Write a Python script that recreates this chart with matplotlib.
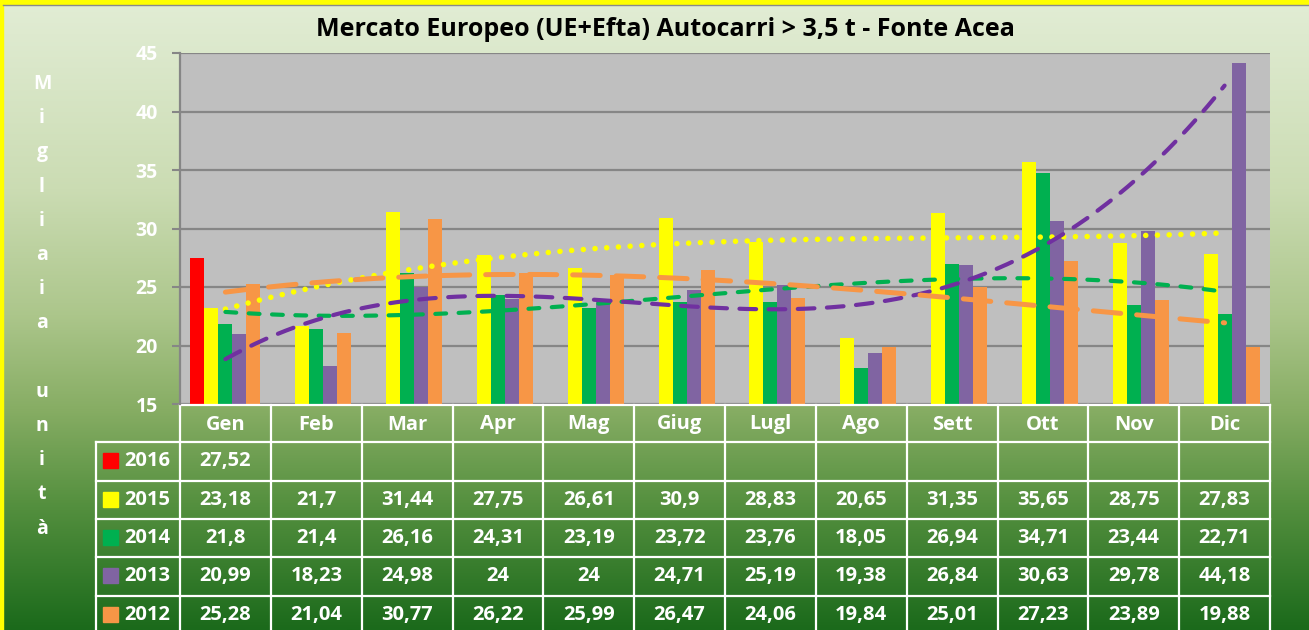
import numpy as np
import matplotlib.pyplot as plt
from matplotlib.colors import LinearSegmentedColormap
from matplotlib.patches import Rectangle
from matplotlib.transforms import blended_transform_factory

plt.rcParams['font.family'] = ['Open Sans', 'DejaVu Sans']
plt.rcParams['font.weight'] = 'bold'

# Dati (migliaia di unità)
mesi = ['Gen', 'Feb', 'Mar', 'Apr', 'Mag', 'Giug', 'Lugl', 'Ago', 'Sett', 'Ott', 'Nov', 'Dic']
anni = ['2016', '2015', '2014', '2013', '2012']
v2016 = [27.52] + [np.nan] * 11
v2015 = [23.18, 21.7, 31.44, 27.75, 26.61, 30.9, 28.83, 20.65, 31.35, 35.65, 28.75, 27.83]
v2014 = [21.8, 21.4, 26.16, 24.31, 23.19, 23.72, 23.76, 18.05, 26.94, 34.71, 23.44, 22.71]
v2013 = [20.99, 18.23, 24.98, 24, 24, 24.71, 25.19, 19.38, 26.84, 30.63, 29.78, 44.18]
v2012 = [25.28, 21.04, 30.77, 26.22, 25.99, 26.47, 24.06, 19.84, 25.01, 27.23, 23.89, 19.88]
serie = [v2016, v2015, v2014, v2013, v2012]
colori = ['#ff0000', '#ffff00', '#00b050', '#8064a2', '#f79646']

W, H = 1309, 630
fig = plt.figure(figsize=(W / 100, H / 100), dpi=100)

# sfondo sfumato
bg = fig.add_axes([0, 0, 1, 1])
bg.set_xlim(0, W)
bg.set_ylim(H, 0)
bg.axis('off')
cmap = LinearSegmentedColormap.from_list('sfondo', [
    (0.0, '#e2edd5'), (0.3, '#cbdcb3'), (0.5, '#acc68b'),
    (0.65, '#87ad64'), (0.8, '#55903f'), (1.0, '#1b6a1b')])
bg.imshow(np.linspace(0, 1, 256).reshape(-1, 1), cmap=cmap,
          extent=[0, W, H, 0], aspect='auto', zorder=0)
bg.add_patch(Rectangle((0, 0), W, 4, color='#ffff00', zorder=1))
bg.add_patch(Rectangle((0, 0), 3, H, color='#ffff00', zorder=1))
bg.plot([3, W], [5, 5], color='#8a8a8a', lw=1, zorder=1)

fig.text(665 / W, 1 - 30 / H, 'Mercato Europeo (UE+Efta) Autocarri > 3,5 t - Fonte Acea',
         ha='center', va='center', fontsize=18, fontweight='bold', color='black')

# etichetta asse y, lettere in colonna
etichetta = 'Migliaia unità'
for i, c in enumerate(etichetta):
    bg.text(42, 89 + 34.2 * i, c, ha='center', va='baseline', fontsize=14,
            fontweight='bold', color='white')

# grafico
ax = fig.add_axes([180 / W, (H - 404) / H, 1090 / W, 351 / H])
ax.set_facecolor('#bfbfbf')
ax.set_xlim(0.5, 12.5)
ax.set_ylim(15, 45)
ax.set_yticks(range(15, 50, 5))
ax.set_xticks([])
ax.yaxis.grid(True, color='#868686', lw=1.6)
ax.set_axisbelow(True)
for s in ['top', 'right', 'bottom']:
    ax.spines[s].set_visible(False)
ax.spines['left'].set_color('#868686')
ax.spines['left'].set_linewidth(1.6)
ax.tick_params(axis='y', colors='#868686', length=6, width=1.5, pad=10,
               labelcolor='white', labelsize=14)

x = np.arange(1, 13)
w = 0.154
for k, (vals, col) in enumerate(zip(serie, colori)):
    ax.bar(x + (k - 2) * w, vals, width=w, bottom=0, color=col, zorder=2)

# linee di tendenza (polinomiali di terzo grado)
xf = np.linspace(1, 12, 300)
tend = [
    (v2015, '#ffff00', 4.0, (0, (0.01, 2.1))),
    (v2014, '#00b050', 3.0, (0, (2.6, 3.0))),
    (v2013, '#7030a0', 3.0, (0, (4.0, 3.0))),
    (v2012, '#f79646', 3.6, (0, (5.5, 3.2))),
]
for vals, col, lw, ls in tend:
    p = np.polyfit(x, vals, 3)
    ax.plot(xf, np.polyval(p, xf), color=col, lw=lw, linestyle=ls,
            dash_capstyle='round', zorder=3)

# tabella dati sotto il grafico
tr = blended_transform_factory(ax.transData, bg.transData)
righe = [405, 442, 480.5, 519, 557, 595.5, 634]
sx = 0.5 - 84 / 90.83
lc = 'white'
ax.plot([0.5, 12.5], [righe[0], righe[0]], color=lc, lw=1.6, transform=tr, clip_on=False)
for yy in righe[1:]:
    ax.plot([sx, 12.5], [yy, yy], color=lc, lw=1.6, transform=tr, clip_on=False)
for i in range(13):
    ax.plot([0.5 + i, 0.5 + i], [righe[0], righe[-1]], color=lc, lw=1.6,
            transform=tr, clip_on=False)
ax.plot([sx, sx], [righe[1], righe[-1]], color=lc, lw=1.6, transform=tr, clip_on=False)

for i, m in enumerate(mesi):
    ax.text(i + 1, (righe[0] + righe[1]) / 2 + 1, m, ha='center', va='center',
            fontsize=14.5, fontweight='bold', color='white', transform=tr)

for r, (anno, vals, col) in enumerate(zip(anni, serie, colori)):
    yc = (righe[r + 1] + righe[r + 2]) / 2
    bg.add_patch(Rectangle((103, yc - 8), 15, 15, color=col, zorder=2))
    bg.text(124, yc, anno, ha='left', va='center', fontsize=14.5,
            fontweight='bold', color='white', zorder=2)
    for i, v in enumerate(vals):
        if np.isnan(v):
            continue
        ax.text(i + 1, yc, f'{v:g}'.replace('.', ','), ha='center', va='center',
                fontsize=14.5, fontweight='bold', color='white', transform=tr)

fig.savefig('out.png', dpi=100)
